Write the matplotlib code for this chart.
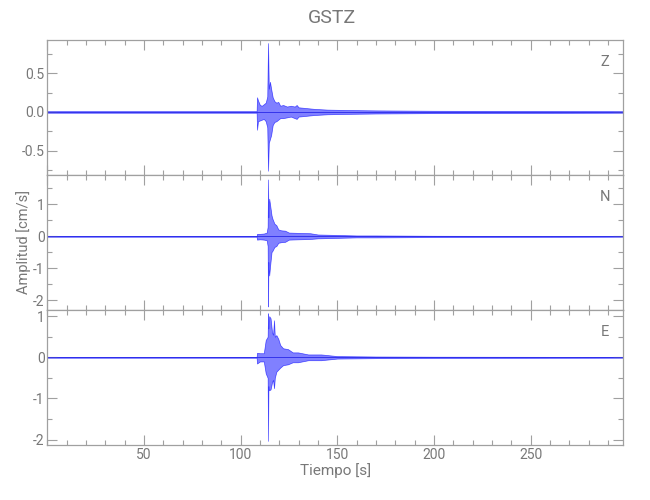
import matplotlib
matplotlib.use("Agg")
import matplotlib.pyplot as plt
from matplotlib.ticker import MultipleLocator

# ---- data (envelope keypoints) ----
station = "GSTZ"
components = ["Z", "N", "E"]

t_z = [0, 108.3, 108.5, 109.0, 110.0, 111.0, 112.0, 113.0, 113.8, 114.2, 114.6, 115.2, 115.8,
       116.6, 117.5, 118.5, 119.5, 120.5, 122, 124, 126, 128, 129, 130, 134, 138, 145, 155,
       170, 200, 298]
up_z = [0.01, 0.01, 0.19, 0.15, 0.09, 0.08, 0.10, 0.12, 0.20, 0.89, 0.30, 0.39, 0.30,
        0.19, 0.14, 0.12, 0.13, 0.08, 0.09, 0.07, 0.08, 0.07, 0.09, 0.06, 0.05, 0.04, 0.03, 0.025,
        0.02, 0.015, 0.01]
lo_z = [-0.01, -0.01, -0.23, -0.12, -0.11, -0.10, -0.09, -0.12, -0.20, -0.76, -0.40, -0.35, -0.30,
        -0.17, -0.13, -0.12, -0.10, -0.08, -0.08, -0.07, -0.06, -0.08, -0.09, -0.06, -0.05, -0.04, -0.03, -0.025,
        -0.02, -0.015, -0.01]

t_n = [0, 108.3, 108.5, 110.0, 112.0, 113.5, 114.0, 114.2, 114.4, 114.8, 115.3, 116.0, 116.5,
       117.5, 118.5, 119.5, 121, 123, 125, 130, 136, 140, 147, 160, 170, 200, 298]
up_n = [0.01, 0.01, 0.08, 0.08, 0.09, 0.12, 0.3, 1.78, 0.6, 1.18, 0.97, 0.66, 0.55,
        0.40, 0.35, 0.22, 0.19, 0.18, 0.12, 0.11, 0.10, 0.06, 0.05, 0.03, 0.03, 0.02, 0.01]
lo_n = [-0.01, -0.01, -0.10, -0.09, -0.10, -0.12, -0.3, -2.19, -0.8, -1.22, -0.9, -0.49, -0.45,
        -0.33, -0.30, -0.20, -0.18, -0.17, -0.10, -0.09, -0.08, -0.06, -0.05, -0.03, -0.03, -0.02, -0.01]

t_e = [0, 108.3, 108.5, 110.0, 112.0, 113.0, 114.0, 114.2, 114.4, 114.8, 115.5, 116.3, 116.8,
       117.3, 117.7, 118.5, 119.5, 120.5, 122, 124.5, 127, 129.7, 135, 141.7, 150, 170, 200, 298]
up_e = [0.01, 0.01, 0.11, 0.10, 0.10, 0.42, 0.50, 1.07, 0.70, 1.00, 0.95, 0.60, 0.55,
        0.90, 0.50, 0.54, 0.45, 0.30, 0.22, 0.20, 0.12, 0.12, 0.07, 0.07, 0.03, 0.02, 0.015, 0.01]
lo_e = [-0.01, -0.01, -0.15, -0.10, -0.10, -0.39, -0.50, -2.03, -0.70, -0.80, -0.78, -0.60, -0.55,
        -0.75, -0.50, -0.35, -0.30, -0.25, -0.19, -0.17, -0.12, -0.12, -0.07, -0.07, -0.03, -0.02, -0.015, -0.01]

ylims = [(-0.815, 0.93), (-2.30, 1.92), (-2.13, 1.15)]
ymajor = [0.5, 1.0, 1.0]
yminor = [0.25, 0.5, 0.5]
ytick_fmt = ["{:.1f}", "{:.0f}", "{:.0f}"]
xlim = (0, 298)

# ---- figure ----
plt.rcParams['font.family'] = ['Roboto', 'DejaVu Sans']
plt.rcParams['axes.unicode_minus'] = False
grey = '#787878'
spine_c = '#a0a0a0'
fig = plt.figure(figsize=(6.5, 5.0), dpi=100)

left, width = 47.3 / 650, 576.0 / 650
tops = [40, 175, 310]
h = 135

series = [(t_z, up_z, lo_z), (t_n, up_n, lo_n), (t_e, up_e, lo_e)]
axes = []
for i, (tt, up, lo) in enumerate(series):
    ax = fig.add_axes([left, 1 - (tops[i] + h) / 500, width, h / 500])
    axes.append(ax)
    ax.fill_between(tt, lo, up, facecolor='#3c3cff', alpha=0.65, edgecolor='#0000ff', linewidth=0.5)
    ax.plot(xlim, [0, 0], color='#2828e8', lw=0.6)
    ax.set_xlim(*xlim)
    ax.set_ylim(*ylims[i])
    ax.xaxis.set_major_locator(MultipleLocator(50))
    ax.xaxis.set_minor_locator(MultipleLocator(10))
    ax.yaxis.set_major_locator(MultipleLocator(ymajor[i]))
    ax.yaxis.set_minor_locator(MultipleLocator(yminor[i]))
    fmt = ytick_fmt[i]
    ax.yaxis.set_major_formatter(plt.FuncFormatter(
        lambda v, p, fmt=fmt: fmt.format(v) if abs(v) > 1e-9 else fmt.format(0.0)))
    ax.tick_params(which='both', direction='in', top=True, right=True, color=spine_c,
                   labelcolor=grey, labelsize=10, width=0.8, pad=2)
    ax.tick_params(which='major', length=7)
    ax.tick_params(which='minor', length=3.5)
    for s in ax.spines.values():
        s.set_color(spine_c)
        s.set_linewidth(0.9)
    if i < 2:
        ax.tick_params(labelbottom=False)
    ax.text(0.968, 0.84, components[i], transform=ax.transAxes, color=grey,
            fontsize=10.5, ha='center', va='center')

axes[2].set_xticks([50, 100, 150, 200, 250])
axes[2].set_xlabel("Tiempo [s]", color=grey, fontsize=11, labelpad=1)
axes[1].set_ylabel("Amplitud [cm/s]", color=grey, fontsize=10.5)
axes[1].yaxis.set_label_coords((31 - 47.3) / 576, 0.5)
fig.text(left + width / 2 - 3 / 650, 1 - 18 / 500, station, color=grey, fontsize=14,
         ha='center', va='center')

fig.savefig("out.png", dpi=100)
